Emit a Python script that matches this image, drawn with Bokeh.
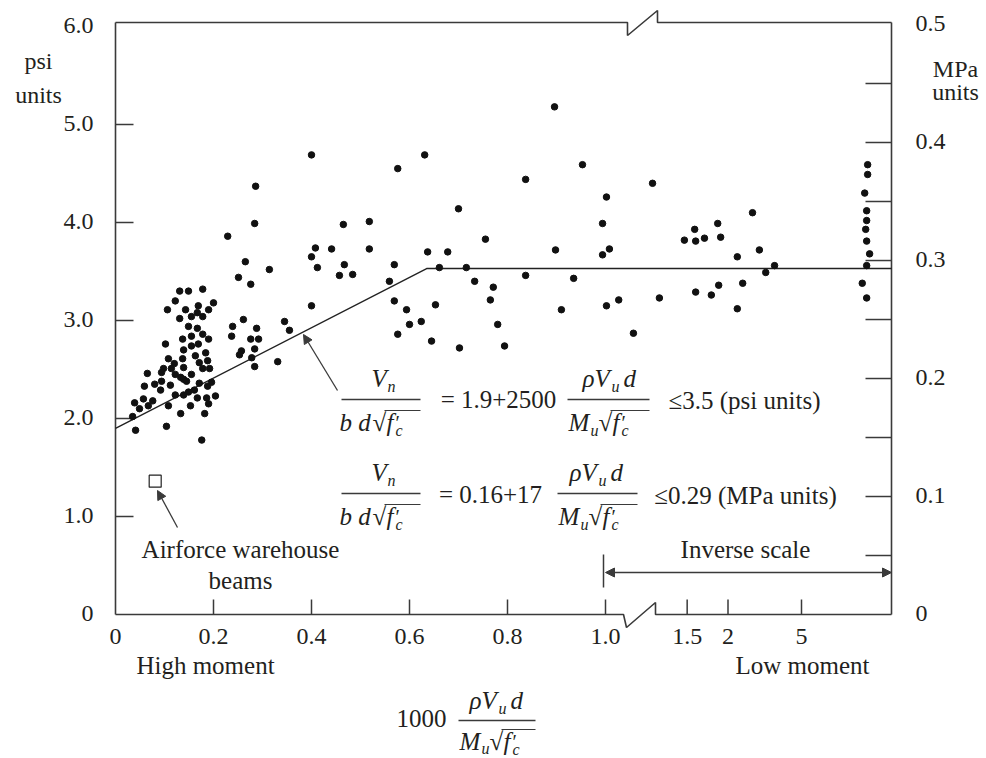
import numpy as np
from bokeh.plotting import figure
from bokeh.models import Range1d, Label, Arrow, NormalHead
from bokeh.core.properties import value
from bokeh.embed import file_html
from bokeh.resources import INLINE

# ---------------- data ----------------
# x: 1000*rho*Vu*d/(Mu*sqrt(fc')) on the broken axis (0..1 linear, inverse scale beyond the break)
# y: Vn/(b*d*sqrt(fc')) in psi units
test_x = [
    # moderate moment, left middle
    0.400, 0.286, 0.284, 0.229, 0.465, 0.518, 0.408, 0.441, 0.518, 0.400, 0.265, 0.314, 0.412,
    0.467, 0.457, 0.484, 0.251, 0.276, 0.400, 0.239, 0.261, 0.237, 0.288, 0.276, 0.292, 0.257,
    0.253, 0.284, 0.278, 0.284, 0.331, 0.345, 0.355,
    # high moment cluster
    0.131, 0.149, 0.178, 0.122, 0.200, 0.106, 0.169, 0.190, 0.143, 0.131, 0.155, 0.178, 0.167,
    0.149, 0.167, 0.137, 0.155, 0.178, 0.190, 0.102, 0.139, 0.155, 0.169, 0.184, 0.137, 0.163,
    0.108, 0.139, 0.120, 0.171, 0.188, 0.098, 0.114, 0.178, 0.192, 0.065, 0.094, 0.122, 0.133,
    0.155, 0.094, 0.080, 0.112, 0.139, 0.145, 0.059, 0.092, 0.171, 0.188, 0.196, 0.161, 0.149,
    0.122, 0.139, 0.167, 0.186, 0.204, 0.057, 0.076, 0.067, 0.049, 0.039, 0.108, 0.153, 0.190,
    0.035, 0.133, 0.182, 0.104, 0.041, 0.176,
    # middle
    0.896, 0.631, 0.576, 0.953, 0.837, 1.002, 0.700, 0.994, 0.755, 0.637, 0.678, 0.898, 1.008,
    0.994, 0.569, 0.661, 0.716, 0.559, 0.733, 0.837, 0.935, 0.771, 0.569, 0.594, 0.653, 0.765,
    0.910, 1.002, 1.027, 0.600, 0.624, 0.576, 0.645, 0.702, 0.780, 0.794, 1.057,
    # inverse scale region
    1.096, 1.300, 1.229, 1.182, 1.161, 1.184, 1.202, 1.235, 1.314, 1.269, 1.345, 1.327, 1.110,
    1.184, 1.216, 1.231, 1.280, 1.269,
    # low moment end
    1.535, 1.535, 1.529, 1.533, 1.533, 1.531, 1.533, 1.539, 1.533, 1.524, 1.533,
]
test_y = [
    4.69, 4.37, 3.99, 3.86, 3.98, 4.01, 3.74, 3.73, 3.73, 3.65, 3.60, 3.52, 3.54,
    3.57, 3.46, 3.47, 3.44, 3.37, 3.15, 2.94, 3.01, 2.84, 2.92, 2.81, 2.81, 2.69,
    2.65, 2.71, 2.62, 2.53, 2.58, 2.99, 2.90,
    3.30, 3.30, 3.32, 3.20, 3.18, 3.11, 3.15, 3.11, 3.11, 3.02, 3.04, 3.04, 3.08,
    2.94, 2.92, 2.81, 2.84, 2.86, 2.81, 2.76, 2.70, 2.74, 2.76, 2.67, 2.61, 2.64,
    2.61, 2.52, 2.56, 2.57, 2.59, 2.51, 2.51, 2.51, 2.51, 2.46, 2.47, 2.45, 2.42,
    2.45, 2.38, 2.35, 2.34, 2.40, 2.38, 2.33, 2.29, 2.36, 2.33, 2.37, 2.29, 2.27,
    2.24, 2.24, 2.21, 2.21, 2.23, 2.20, 2.18, 2.13, 2.10, 2.16, 2.13, 2.13, 2.15,
    2.02, 2.05, 2.05, 1.92, 1.88, 1.78,
    5.18, 4.69, 4.55, 4.59, 4.44, 4.26, 4.14, 3.99, 3.83, 3.70, 3.70, 3.72, 3.73,
    3.67, 3.57, 3.54, 3.54, 3.40, 3.40, 3.46, 3.43, 3.34, 3.20, 3.11, 3.16, 3.21,
    3.11, 3.15, 3.21, 2.96, 2.99, 2.86, 2.79, 2.72, 2.96, 2.74, 2.87,
    4.40, 4.10, 3.99, 3.93, 3.82, 3.81, 3.84, 3.85, 3.72, 3.65, 3.56, 3.49, 3.23,
    3.29, 3.26, 3.36, 3.38, 3.12,
    4.59, 4.49, 4.30, 4.12, 4.02, 3.93, 3.81, 3.68, 3.56, 3.38, 3.23,
]
airforce_x = [0.081]
airforce_y = [1.36]
design_x = [0.0, 0.635, 1.584]
design_y = [1.9, 3.53, 3.53]

psi_ticks = [0, 1, 2, 3, 4, 5, 6]
psi_labels = ["0", "1.0", "2.0", "3.0", "4.0", "5.0", "6.0"]
mpa_ticks = [0.0, 0.1, 0.2, 0.3, 0.4, 0.5]
mpa_labels = ["0", "0.1", "0.2", "0.3", "0.4", "0.5"]
mpa_minor = [0.05, 0.1, 0.15, 0.2, 0.25, 0.3, 0.35, 0.4, 0.45]
lin_ticks = [0.0, 0.2, 0.4, 0.6, 0.8, 1.0]
lin_labels = ["0", "0.2", "0.4", "0.6", "0.8", "1.0"]
inv_values = [1.5, 2, 5]
inv_labels = ["1.5", "2", "5"]
PSI_PER_MPA = 12.04

# ---------------- geometry / style ----------------
W, H = 986, 758
PX0, PXU, PY0, PYU = 115.0, 490.0, 614.0, 98.0
X_MAX, Y_MAX = (891 - PX0) / PXU, (PY0 - 22) / PYU
FONT = "Liberation Serif"
TXT = "#231f20"
LINE = "#3a3a3a"
MID = 0.34  # baseline -> visual middle, in em


def X(px):
    return (px - PX0) / PXU


def Y(py):
    return (PY0 - py) / PYU


def inv_pos(v):
    # inverse scale used right of the axis break
    return 1.5 - 0.5 / v


x_tick_pos = lin_ticks + [inv_pos(v) for v in inv_values]
x_tick_labels = lin_labels + inv_labels

p = figure(width=W, height=H, output_backend="svg", toolbar_location=None,
           x_range=Range1d(X(0), X(W)), y_range=Range1d(Y(H), Y(0)),
           min_border=0, min_border_left=0, min_border_right=0,
           min_border_top=0, min_border_bottom=0, outline_line_color=None,
           background_fill_color="white", border_fill_color="white")
p.grid.visible = False
p.xaxis.visible = False
p.yaxis.visible = False
p.extra_y_ranges = {"mpa": Range1d(Y(H) / PSI_PER_MPA, Y(0) / PSI_PER_MPA)}

# ---------------- frame with axis breaks ----------------
xb1, xb2 = X(627), X(657)
xc1, xc2, xc3 = X(623), X(626), X(655)
frame_xs = [
    [0, xb1, xb1, xb2, xb2, X_MAX],
    [0, xc1, xc2, xc3, xc3, X_MAX],
    [0, 0], [X_MAX, X_MAX],
]
frame_ys = [
    [Y_MAX, Y_MAX, Y_MAX - 13 / PYU, Y_MAX + 12 / PYU, Y_MAX, Y_MAX],
    [0, 0, -13 / PYU, 12 / PYU, 0, 0],
    [0, Y_MAX], [0, Y_MAX],
]
p.multi_line(frame_xs, frame_ys, line_color=LINE, line_width=1.6)

# inner ticks
tx0, tx1, ty0, ty1 = [], [], [], []
for t in psi_ticks[1:-1]:
    tx0.append(0); tx1.append(18 / PXU); ty0.append(t); ty1.append(t)
for t in mpa_minor:
    tx0.append(X_MAX - 26 / PXU); tx1.append(X_MAX)
    ty0.append(t * PSI_PER_MPA); ty1.append(t * PSI_PER_MPA)
for t in x_tick_pos[1:]:
    tx0.append(t); tx1.append(t); ty0.append(0); ty1.append(15 / PYU)
p.segment(tx0, ty0, tx1, ty1, line_color=LINE, line_width=1.5)

# tick labels
tick_font = dict(text_font=value(FONT), text_font_size=value("24px"), text_color=TXT,
                 text_baseline=value("middle"))
p.text(x=[X(93)] * len(psi_ticks), y=psi_ticks, text=psi_labels, text_align=value("right"),
       y_offset=-1, **tick_font)
p.text(x=[X(915)] * len(mpa_ticks), y=mpa_ticks, text=mpa_labels, text_align=value("left"),
       y_offset=-1, y_range_name="mpa", **tick_font)
p.text(x=x_tick_pos, y=[Y(644 - MID * 24)] * len(x_tick_pos), text=x_tick_labels,
       text_align=value("center"), **tick_font)

# ---------------- data marks ----------------
p.line(design_x, design_y, line_color="#222222", line_width=1.4)
p.scatter(test_x, test_y, marker="circle", size=6.5, fill_color="#111111", line_color="#111111")
p.scatter(airforce_x, airforce_y, marker="square", size=12, fill_color="white",
          line_color="#222222", line_width=1.2)

# ---------------- annotations ----------------
def txt(s, px, base, size=25, italic=False, align="left"):
    # (px, base): left/centre x and alphabetic baseline, in picture pixels
    p.add_layout(Label(x=X(px), y=Y(base - MID * size), text=s, text_font=FONT,
                       text_font_size=f"{size}px",
                       text_font_style="italic" if italic else "normal",
                       text_align=align, text_baseline="middle", text_color=TXT))


def seg(px1, py1, px2, py2, w=1.3):
    p.add_layout(Arrow(x_start=X(px1), y_start=Y(py1), x_end=X(px2), y_end=Y(py2),
                       start=None, end=None, line_width=w, line_color=LINE))


def sqrt_fc(px, base, bar_end):
    txt("\u221a", px, base, 25)
    seg(px + 12, base - 20, bar_end, base - 20, 1.1)
    txt("f", px + 14, base, 25, True)
    txt("\u2032", px + 23, base - 1, 20)
    txt("c", px + 23, base + 5, 16, True)


def lhs(bar_y):
    txt("V", 371, bar_y - 13, 25, True)
    txt("n", 387, bar_y - 8, 16, True)
    seg(341, bar_y, 420, bar_y)
    txt("b d", 339, bar_y + 31, 25, True)
    sqrt_fc(372, bar_y + 31, 420)


def ratio(left, right, bar_y, num_x, base_dy=31):
    txt("\u03c1V", num_x, bar_y - 13, 25, True)
    txt("u", num_x + 29, bar_y - 8, 16, True)
    txt("d", num_x + 41, bar_y - 13, 25, True)
    seg(left, bar_y, right, bar_y)
    txt("M", left + 1, bar_y + base_dy, 25, True)
    txt("u", left + 23, bar_y + base_dy + 5, 16, True)
    sqrt_fc(left + 31, bar_y + base_dy, right)


# psi equation
lhs(399)
txt("= 1.9+2500", 498, 407, 25, align="center")
ratio(567, 649, 399, 582)
txt("\u22643.5 (psi units)", 744, 408, 25, align="center")

# MPa equation
lhs(493)
txt("= 0.16+17", 490, 502, 25, align="center")
ratio(557, 637, 493, 569)
txt("\u22640.29 (MPa units)", 745, 503, 25, align="center")

# arrow to the design line
p.add_layout(Arrow(x_start=X(337), y_start=Y(390), x_end=X(303), y_end=Y(334),
                   line_color=LINE, line_width=1.3,
                   end=NormalHead(size=9, fill_color=LINE, line_color=LINE)))
# airforce beams
p.add_layout(Arrow(x_start=X(177), y_start=Y(527), x_end=X(157), y_end=Y(490),
                   line_color=LINE, line_width=1.3,
                   end=NormalHead(size=9, fill_color=LINE, line_color=LINE)))
txt("Airforce warehouse", 240, 557, 25, align="center")
txt("beams", 240, 588, 25, align="center")

# inverse scale
p.add_layout(Arrow(x_start=1.0, y_start=Y(572), x_end=X_MAX, y_end=Y(572),
                   line_color=LINE, line_width=1.3,
                   start=NormalHead(size=9, fill_color=LINE, line_color=LINE),
                   end=NormalHead(size=9, fill_color=LINE, line_color=LINE)))
seg(603, 554, 603, 587, 1.5)
txt("Inverse scale", 745, 557, 25, align="center")

# unit captions and axis captions
txt("psi", 38, 69, 24, align="center")
txt("units", 38, 103, 24, align="center")
txt("MPa", 955, 77, 24, align="center")
txt("units", 955, 100, 24, align="center")
txt("High moment", 205, 673, 25, align="center")
txt("Low moment", 802, 673, 25, align="center")

# x-axis quantity
txt("1000", 421, 726, 25, align="center")
txt("\u03c1V", 469, 708, 25, True)
txt("u", 498, 713, 16, True)
txt("d", 510, 708, 25, True)
seg(458, 720, 535, 720)
txt("M", 459, 749, 25, True)
txt("u", 481, 753, 16, True)
sqrt_fc(489, 749, 535)

open("out.html", "w").write(file_html(p, INLINE))
